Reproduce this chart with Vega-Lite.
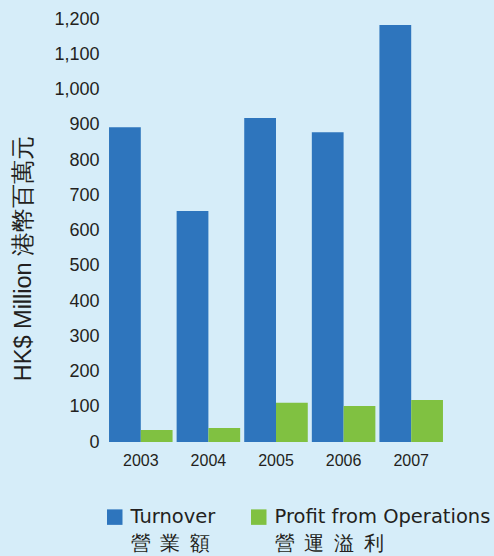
{
  "$schema": "https://vega.github.io/schema/vega-lite/v6.json",
  "autosize": "none",
  "width": 338,
  "height": 423,
  "padding": {"left": 107, "top": 19, "right": 49, "bottom": 114},
  "background": "#d6edf9",
  "config": {
    "view": {"stroke": null},
    "font": "Liberation Sans",
    "axis": {"labelColor": "#231f20", "titleColor": "#231f20", "domain": false, "ticks": false, "grid": false}
  },
  "data": {
    "values": [
      {"year": "2003", "series": "Turnover", "value": 893},
      {"year": "2003", "series": "Profit from Operations", "value": 34},
      {"year": "2004", "series": "Turnover", "value": 655},
      {"year": "2004", "series": "Profit from Operations", "value": 40},
      {"year": "2005", "series": "Turnover", "value": 919},
      {"year": "2005", "series": "Profit from Operations", "value": 111},
      {"year": "2006", "series": "Turnover", "value": 879},
      {"year": "2006", "series": "Profit from Operations", "value": 102},
      {"year": "2007", "series": "Turnover", "value": 1183},
      {"year": "2007", "series": "Profit from Operations", "value": 119}
    ]
  },
  "mark": {"type": "bar"},
  "encoding": {
    "x": {
      "field": "year", "type": "nominal",
      "scale": {"paddingInner": 0.06, "paddingOuter": 0.03},
      "axis": {"title": null, "labelAngle": 0, "labelFontSize": 16, "labelPadding": 10}
    },
    "xOffset": {"field": "series", "type": "nominal", "sort": ["Turnover", "Profit from Operations"], "scale": {"paddingInner": 0, "paddingOuter": 0}},
    "y": {
      "field": "value", "type": "quantitative",
      "scale": {"domain": [0, 1200]},
      "axis": {"values": [0,100,200,300,400,500,600,700,800,900,1000,1100,1200], "format": ",d", "labelFontSize": 18, "labelPadding": 8,
        "title": "HK$ Million 港幣百萬元", "titleFontSize": 23.5, "titleFontWeight": "normal", "titleX": -84, "titleY": 239, "titleAlign": "center", "titleBaseline": "middle"}
    },
    "color": {
      "field": "series", "type": "nominal",
      "sort": ["Turnover", "Profit from Operations"],
      "scale": {"domain": ["Turnover", "Profit from Operations"], "range": ["#2e75bd", "#80c141"]},
      "legend": {
        "title": null, "orient": "none", "legendX": -2, "legendY": 488, "direction": "horizontal", "columns": 2,
        "symbolType": "square", "symbolSize": 240, "symbolStrokeWidth": 0, "symbolOpacity": 1,
        "labelFont": "DejaVu Sans", "labelFontSize": 19.5, "labelColor": "#231f20", "labelLimit": 400, "columnPadding": 33, "labelOffset": 6,
        "labelExpr": "datum.label == 'Turnover' ? ['Turnover', '營\u2002業\u2002額'] : ['Profit from Operations', '營\u2002運\u2002溢\u2002利']",
        "encoding": {"labels": {"lineHeight": {"value": 27}}}
      }
    }
  }
}
